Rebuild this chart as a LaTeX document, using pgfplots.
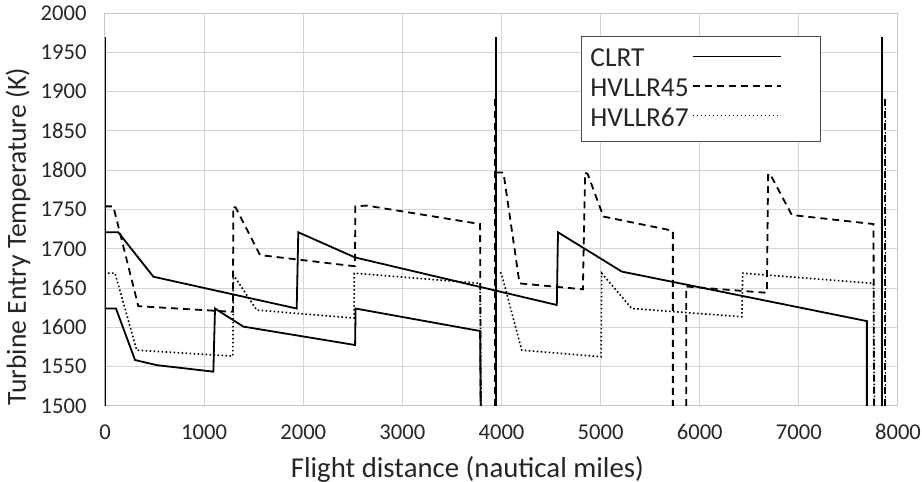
\documentclass[border=0pt]{standalone}
\usepackage{fontspec}
\setmainfont{Carlito}
\usepackage{pgfplots}
\pgfplotsset{compat=1.18}
\pgfplotsset{
  clrt/.style={black, line width=0.9pt, mark=none},
  hA/.style={black, line width=0.9pt, mark=none, dash pattern=on 3.5pt off 2.5pt},
  hB/.style={black, line width=0.8pt, mark=none, dash pattern=on 0.8pt off 1.2pt},
}
\begin{document}
\begin{tikzpicture}
\path[use as bounding box] (-52.5pt,-38pt) rectangle (408.5pt,203pt);
\begin{axis}[
  scale only axis, width=396.5pt, height=196.5pt,
  xmin=0, xmax=8000, ymin=1500, ymax=2000,
  xtick={0,1000,...,8000}, ytick={1500,1550,...,2000},
  grid=major, major grid style={draw=black!16, line width=0.5pt},
  axis line style={draw=black!22, line width=0.5pt},
  major tick length=0pt,
  /pgf/number format/assume math mode=true,
  /pgf/number format/1000 sep={},
  ticklabel style={font=\fontsize{11.3}{13}\selectfont, text=black!85},
  xticklabel style={yshift=-5.7pt},
  yticklabel style={xshift=-5.7pt},
  xlabel={Flight distance (nautical miles)},
  ylabel={Turbine Entry Temperature (K)},
  xlabel style={font=\fontsize{14.4}{16}\selectfont, text=black!85, at={(axis description cs:0.457,-0.1807)}, anchor=base},
  ylabel style={font=\fontsize{13.8}{16}\selectfont, text=black!85, at={(axis description cs:-0.1097,0.431)}, anchor=center},
  legend plot pos=right,
  legend cell align=left,
  legend image code/.code={\draw[#1] (0pt,1.5pt) -- (44pt,1.5pt); \path[draw=none] (0pt,1.5pt) -- (61pt,1.5pt);},
  legend style={at={(axis description cs:0.600,0.9415)}, anchor=north west,
    draw=black!70, line width=0.6pt, fill=white,
    font=\fontsize{13.7}{15}\selectfont,
    inner xsep=3pt, inner ysep=4.8pt, row sep=1.3pt,
    nodes={inner sep=1.5pt, text=black!85}},
]
% legend-bearing plots
\addplot[clrt] coordinates {(0,1721) (134,1721) (488,1664.5) (1934,1624) (1950,1721) (2523,1689) (4558,1628.5) (4570,1721) (5214,1671) (7686,1608) (7686,1500)};
\addlegendentry{CLRT}
\addplot[hA] coordinates {(0,1754) (84,1754) (336,1627) (1261,1620) (1290,1620) (1295,1754) (1320,1752) (1564,1692) (2506,1678) (2522,1678) (2525,1754) (2640,1755) (3784,1731.5) (3790,1500)};
\addlegendentry{HVLLR45}
\addplot[hB] coordinates {(30,1669) (101,1669) (320,1571) (1278,1563.6) (1290,1563.6) (1295,1667) (1530,1622) (2506,1612) (2513,1612) (2515,1669) (3784,1656) (3795,1500)};
\addlegendentry{HVLLR67}
% CLRT other pieces
\addplot[clrt, forget plot] coordinates {(0,1500) (0,1970)};
\addplot[clrt, forget plot] coordinates {(0,1624) (111,1624) (303,1558.5) (521,1552) (1093,1543.7) (1110,1624) (1396,1601) (2523,1577.6) (2528,1624) (3784,1595.4) (3790,1500)};
\addplot[clrt, forget plot] coordinates {(3945,1500) (3945,1970)};
\addplot[clrt, forget plot] coordinates {(7840,1500) (7840,1970)};
% HVLLR45 other pieces
\addplot[hA, forget plot] coordinates {(3934,1500) (3934,1890)};
\addplot[hA, forget plot] coordinates {(3945,1797) (4020,1797) (4182,1656) (4821,1648.5) (4844,1797) (4870,1795) (5028,1741) (5729,1723) (5729,1500)};
\addplot[hA, forget plot] coordinates {(5863,1500) (5863,1652) (6677,1644) (6690,1795) (6710,1795) (6929,1743) (7753,1731.5) (7758,1500)};
\addplot[hA, forget plot] coordinates {(7868,1500) (7868,1890)};
% HVLLR67 other pieces
\addplot[hB, forget plot] coordinates {(3939,1500) (3939,1890)};
\addplot[hB, forget plot] coordinates {(3986,1670) (4000,1668) (4204,1571) (5005,1562.7) (5011,1669) (5314,1624) (6425,1613.6) (6433,1669) (7753,1656) (7762,1500)};
\addplot[hB, forget plot] coordinates {(7873,1500) (7873,1890)};
\end{axis}
\end{tikzpicture}
\end{document}
